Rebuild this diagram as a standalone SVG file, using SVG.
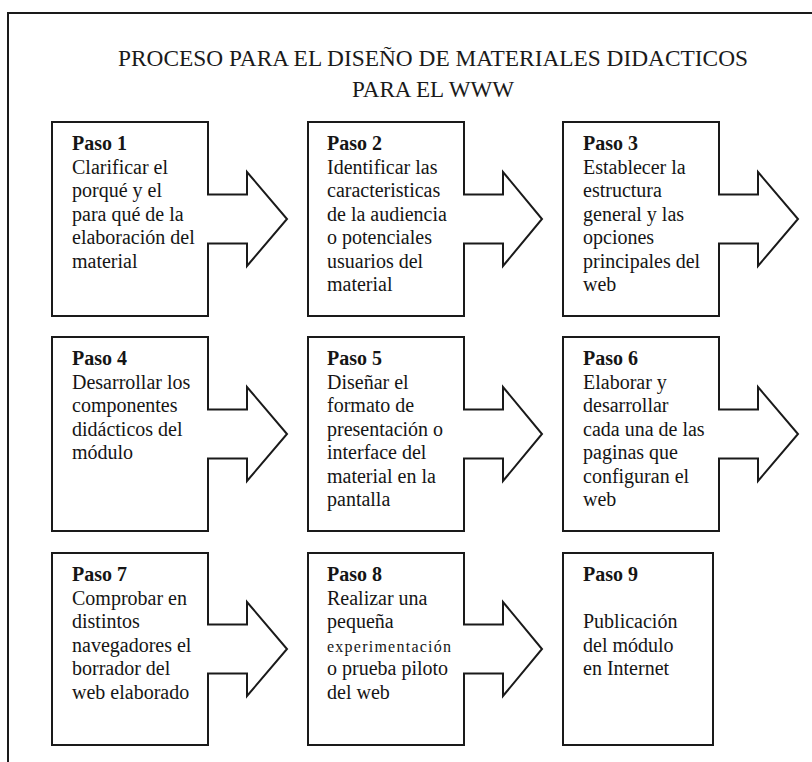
<svg xmlns="http://www.w3.org/2000/svg" width="812" height="762" viewBox="0 0 812 762">
  <style>
    .frame { fill: none; stroke: #1a1a1a; stroke-width: 2; }
    .box { fill: #ffffff; stroke: #1a1a1a; stroke-width: 2; }
    .arrow { fill: #ffffff; stroke: #1a1a1a; stroke-width: 2; stroke-linejoin: miter; }
    .title { font-family: "Liberation Serif", "Times New Roman", serif; font-size: 24px; fill: #1a1a1a; text-anchor: middle; }
    .txt { font-family: "Liberation Serif", "Times New Roman", serif; font-size: 20px; fill: #151515; }
    .head { font-weight: bold; }
    .small { font-size: 16px; }
  </style>

  <rect x="0" y="0" width="812" height="762" fill="#ffffff"/>

  <!-- outer frame: open at the right and bottom edges -->
  <path class="frame" d="M 8 762 V 13 H 812"/>

  <!-- title -->
  <text class="title" x="433" y="66" textLength="630" lengthAdjust="spacingAndGlyphs">PROCESO PARA EL DISEÑO DE MATERIALES DIDACTICOS</text>
  <text class="title" x="433" y="97" textLength="162" lengthAdjust="spacingAndGlyphs">PARA EL WWW</text>

  <!-- step boxes -->
  <g id="paso1">
    <rect class="box" x="52" y="122" width="156" height="194"/>
    <text class="txt" x="72" y="150"><tspan class="head">Paso 1</tspan><tspan x="72" dy="23.5">Clarificar el</tspan><tspan x="72" dy="23.5">porqué y el</tspan><tspan x="72" dy="23.5">para qué de la</tspan><tspan x="72" dy="23.5">elaboración del</tspan><tspan x="72" dy="23.5">material</tspan></text>
  </g>
  <g id="paso2">
    <rect class="box" x="308" y="122" width="156" height="194"/>
    <text class="txt" x="327" y="150"><tspan class="head">Paso 2</tspan><tspan x="327" dy="23.5">Identificar las</tspan><tspan x="327" dy="23.5">caracteristicas</tspan><tspan x="327" dy="23.5">de la audiencia</tspan><tspan x="327" dy="23.5">o potenciales</tspan><tspan x="327" dy="23.5">usuarios del</tspan><tspan x="327" dy="23.5">material</tspan></text>
  </g>
  <g id="paso3">
    <rect class="box" x="563" y="122" width="156" height="194"/>
    <text class="txt" x="583" y="150"><tspan class="head">Paso 3</tspan><tspan x="583" dy="23.5">Establecer la</tspan><tspan x="583" dy="23.5">estructura</tspan><tspan x="583" dy="23.5">general y las</tspan><tspan x="583" dy="23.5">opciones</tspan><tspan x="583" dy="23.5">principales del</tspan><tspan x="583" dy="23.5">web</tspan></text>
  </g>
  <g id="paso4">
    <rect class="box" x="52" y="337" width="156" height="194"/>
    <text class="txt" x="72" y="365"><tspan class="head">Paso 4</tspan><tspan x="72" dy="23.5">Desarrollar los</tspan><tspan x="72" dy="23.5">componentes</tspan><tspan x="72" dy="23.5">didácticos del</tspan><tspan x="72" dy="23.5">módulo</tspan></text>
  </g>
  <g id="paso5">
    <rect class="box" x="308" y="337" width="156" height="194"/>
    <text class="txt" x="327" y="365"><tspan class="head">Paso 5</tspan><tspan x="327" dy="23.5">Diseñar el</tspan><tspan x="327" dy="23.5">formato de</tspan><tspan x="327" dy="23.5">presentación o</tspan><tspan x="327" dy="23.5">interface del</tspan><tspan x="327" dy="23.5">material en la</tspan><tspan x="327" dy="23.5">pantalla</tspan></text>
  </g>
  <g id="paso6">
    <rect class="box" x="563" y="337" width="156" height="194"/>
    <text class="txt" x="583" y="365"><tspan class="head">Paso 6</tspan><tspan x="583" dy="23.5">Elaborar y</tspan><tspan x="583" dy="23.5">desarrollar</tspan><tspan x="583" dy="23.5">cada una de las</tspan><tspan x="583" dy="23.5">paginas que</tspan><tspan x="583" dy="23.5">configuran el</tspan><tspan x="583" dy="23.5">web</tspan></text>
  </g>
  <g id="paso7">
    <rect class="box" x="52" y="553" width="156" height="192"/>
    <text class="txt" x="72" y="581"><tspan class="head">Paso 7</tspan><tspan x="72" dy="23.5">Comprobar en</tspan><tspan x="72" dy="23.5">distintos</tspan><tspan x="72" dy="23.5">navegadores el</tspan><tspan x="72" dy="23.5">borrador del</tspan><tspan x="72" dy="23.5">web elaborado</tspan></text>
  </g>
  <g id="paso8">
    <rect class="box" x="308" y="553" width="156" height="192"/>
    <text class="txt" x="327" y="581"><tspan class="head">Paso 8</tspan><tspan x="327" dy="23.5">Realizar una</tspan><tspan x="327" dy="23.5">pequeña</tspan><tspan x="327" dy="23.5" class="small" textLength="124" lengthAdjust="spacing">experimentación</tspan><tspan x="327" dy="23.5">o prueba piloto</tspan><tspan x="327" dy="23.5">del web</tspan></text>
  </g>
  <g id="paso9">
    <rect class="box" x="563" y="553" width="150" height="192"/>
    <text class="txt" x="583" y="581"><tspan class="head">Paso 9</tspan><tspan x="583" dy="47">Publicación</tspan><tspan x="583" dy="23.5">del módulo</tspan><tspan x="583" dy="23.5">en Internet</tspan></text>
  </g>

  <!-- block arrows leading from each step to the next -->
  <g id="connectors">
    <path class="arrow" d="M 207 194.5 H 247 V 172 L 287 219 L 247 266 V 243.5 H 207"/>
    <path class="arrow" d="M 463 194.5 H 503 V 172 L 542 219 L 503 266 V 243.5 H 463"/>
    <path class="arrow" d="M 718 194.5 H 758 V 172 L 798 219 L 758 266 V 243.5 H 718"/>
    <path class="arrow" d="M 207 409.5 H 247 V 387 L 287 434 L 247 481 V 458.5 H 207"/>
    <path class="arrow" d="M 463 409.5 H 503 V 387 L 542 434 L 503 481 V 458.5 H 463"/>
    <path class="arrow" d="M 718 409.5 H 758 V 387 L 798 434 L 758 481 V 458.5 H 718"/>
    <path class="arrow" d="M 207 624.5 H 247 V 602 L 287 649 L 247 696 V 673.5 H 207"/>
    <path class="arrow" d="M 463 624.5 H 503 V 602 L 542 649 L 503 696 V 673.5 H 463"/>
  </g>
</svg>
